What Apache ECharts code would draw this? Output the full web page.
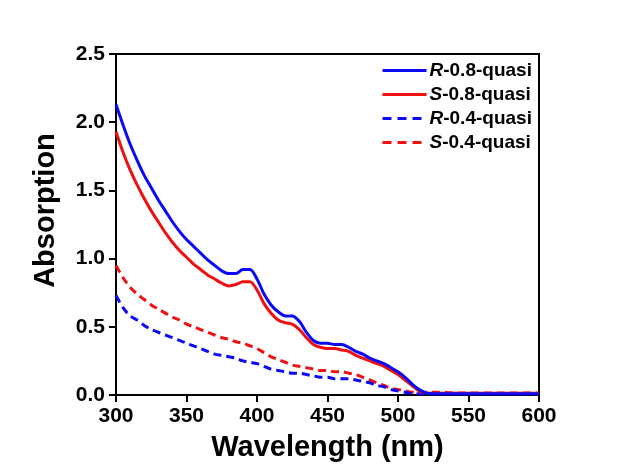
<!DOCTYPE html>
<html><head><meta charset="utf-8">
<script src="https://cdn.jsdelivr.net/npm/echarts@6/dist/echarts.min.js"></script>
<style>html,body{margin:0;padding:0;background:#fff}#c{width:619px;height:472px}</style>
</head><body><div id="c"></div>
<script>
const wavelengths = [];
for (let w = 300; w <= 600; w += 5) wavelengths.push(w);

const r08 = [2.13,1.98,1.84,1.72,1.61,1.52,1.43,1.35,1.27,1.20,1.14,1.09,1.04,0.99,0.95,0.91,0.89,0.89,0.92,0.92,0.85,0.74,0.66,0.61,0.58,0.58,0.54,0.46,0.40,0.38,0.38,0.37,0.37,0.35,0.32,0.30,0.27,0.25,0.23,0.20,0.17,0.13,0.08,0.04,0.015,0.01,0.01,0.01,0.01,0.01,0.01,0.01,0.01,0.01,0.01,0.01,0.01,0.01,0.01,0.01,0.01];
const s08 = [1.93,1.78,1.65,1.54,1.44,1.35,1.27,1.19,1.12,1.06,1.01,0.96,0.92,0.88,0.85,0.82,0.80,0.81,0.83,0.83,0.77,0.67,0.60,0.55,0.53,0.52,0.48,0.42,0.37,0.35,0.34,0.34,0.33,0.32,0.29,0.27,0.25,0.23,0.21,0.18,0.15,0.11,0.07,0.03,0.015,0.012,0.012,0.012,0.012,0.012,0.012,0.012,0.012,0.012,0.012,0.012,0.012,0.012,0.012,0.012,0.012];
const r04 = [0.73,0.64,0.58,0.55,0.51,0.48,0.46,0.44,0.42,0.40,0.38,0.36,0.34,0.32,0.30,0.29,0.28,0.27,0.25,0.24,0.23,0.21,0.19,0.18,0.17,0.16,0.16,0.15,0.14,0.13,0.13,0.12,0.12,0.12,0.11,0.10,0.09,0.07,0.06,0.04,0.03,0.02,0.01,0.01,0.01,0.01,0.01,0.01,0.01,0.01,0.01,0.01,0.01,0.01,0.01,0.01,0.01,0.01,0.01,0.01,0.01];
const s04 = [0.95,0.86,0.79,0.74,0.70,0.66,0.63,0.60,0.57,0.55,0.52,0.50,0.48,0.46,0.44,0.42,0.41,0.39,0.38,0.36,0.34,0.31,0.28,0.26,0.24,0.22,0.21,0.20,0.19,0.18,0.18,0.17,0.17,0.16,0.15,0.13,0.11,0.09,0.07,0.05,0.04,0.03,0.02,0.02,0.02,0.02,0.02,0.018,0.016,0.015,0.015,0.015,0.015,0.015,0.015,0.015,0.015,0.015,0.015,0.015,0.015];

const seriesNames = ['R-0.8-quasi','S-0.8-quasi','R-0.4-quasi','S-0.4-quasi'];
const seriesData = [r08, s08, r04, s04];
const colors = ['#0a0af5','#ee1111','#0a0af5','#ee1111'];
const dashed = [false,false,true,true];

const chart = echarts.init(document.getElementById('c'));
const F = '"Liberation Sans", Arial, sans-serif';
const legendRows = [71, 95, 119, 143];
chart.setOption({
  animation:false,
  backgroundColor:'#fff',
  grid:{left:116,right:80,top:54,bottom:77,show:true,borderColor:'#000',borderWidth:2,backgroundColor:'transparent'},
  legend: seriesNames.map((n,i)=>({
    orient:'horizontal', left:381, top:legendRows[i]-10, itemWidth:44, itemHeight:20, itemGap:0,
    padding:0,
    data:[n],
    itemStyle:{color:'transparent',borderColor:'transparent',borderWidth:0,opacity:0},
    lineStyle:{width:3,type:dashed[i]?[9,6]:'solid'},
    formatter: s => '{i|' + s[0] + '}' + s.slice(1),
    textStyle:{fontFamily:F,fontWeight:'bold',fontSize:19,color:'#000',padding:[0,0,0,-2],
      rich:{i:{fontFamily:F,fontWeight:'bold',fontStyle:'italic',fontSize:19,color:'#000'}}}
  })),
  xAxis:{type:'value',min:300,max:600,interval:50,
    name:'Wavelength (nm)',nameLocation:'middle',nameGap:38,
    nameTextStyle:{fontFamily:F,fontWeight:'bold',fontSize:29,color:'#000'},
    axisLine:{lineStyle:{color:'#000',width:2}},
    axisTick:{inside:false,length:7,lineStyle:{width:2,color:'#000'}},
    axisLabel:{fontFamily:F,fontWeight:'bold',fontSize:21,color:'#000',margin:11},
    splitLine:{show:false}},
  yAxis:{type:'value',min:0,max:2.5,interval:0.5,
    name:'Absorption',nameLocation:'middle',nameGap:56,
    nameTextStyle:{fontFamily:F,fontWeight:'bold',fontSize:29,color:'#000',padding:[0,0,0,28]},
    axisLine:{show:true,lineStyle:{color:'#000',width:2}},
    axisTick:{show:true,inside:false,length:7,lineStyle:{width:2,color:'#000'}},
    axisLabel:{fontFamily:F,fontWeight:'bold',fontSize:21,color:'#000',margin:11,formatter:v=>v.toFixed(1)},
    splitLine:{show:false}},
  series: seriesNames.map((n,i)=>({
    name:n,type:'line',showSymbol:false,symbol:'none',smooth:0.3,
    data: wavelengths.map((w,j)=>[w, seriesData[i][j]]),
    color: colors[i],
    lineStyle:{color:colors[i],width:3,type:dashed[i]?[8,5]:'solid'},
    z: 4-i
  }))
});
</script></body></html>
